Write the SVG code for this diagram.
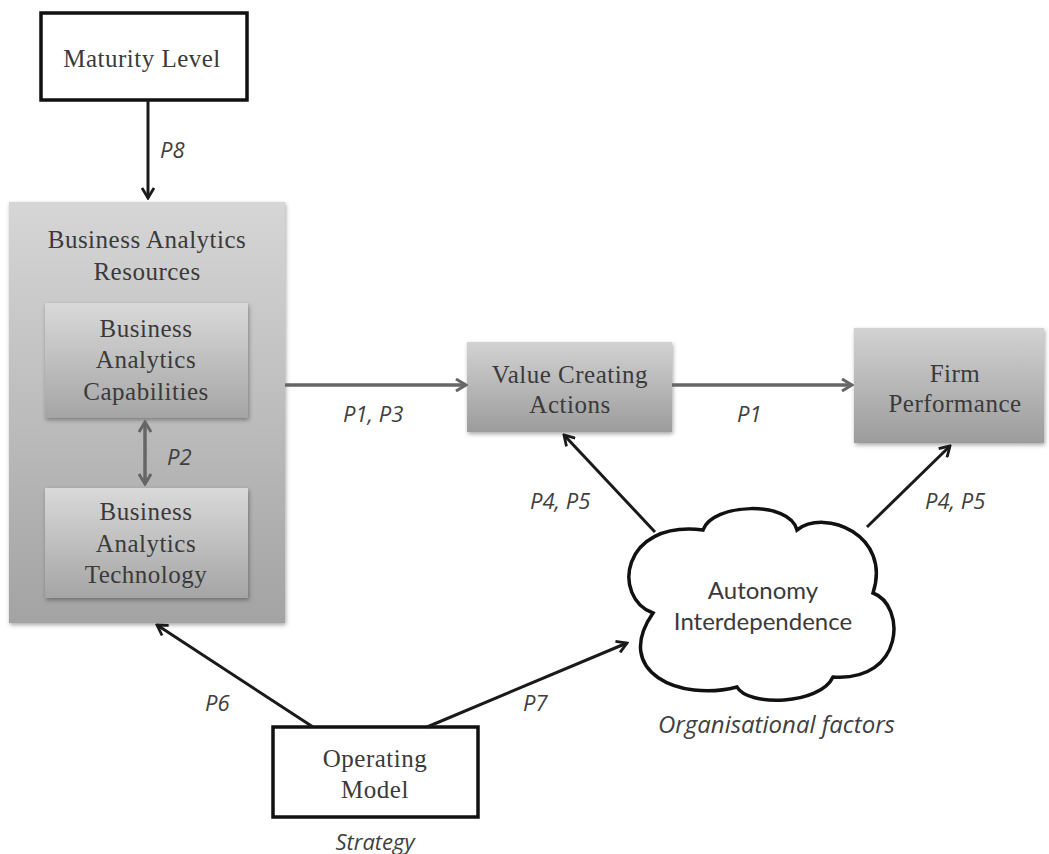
<svg xmlns="http://www.w3.org/2000/svg" width="1049" height="854" viewBox="0 0 1049 854">
<style>
.box{font-family:"Liberation Serif","DejaVu Serif",serif;font-size:25px;letter-spacing:0.5px;fill:#3a3a3a;text-anchor:middle}
.lbl{font-family:"Open Sans","Liberation Sans",sans-serif;font-style:italic;font-size:22px;fill:#3f3f3f}
.cl{font-family:Lato,"Open Sans",sans-serif;font-size:24px;fill:#3a3a3a;text-anchor:middle}
.white{fill:#fff;stroke:#111;stroke-width:3.5}
.blk{stroke:#1a1a1a;stroke-width:3;fill:none}
.gry{stroke:#666;stroke-width:3.5;fill:none}
</style>
<defs>
<linearGradient id="gOuter" x1="0" y1="0" x2="0" y2="1">
<stop offset="0" stop-color="#d6d6d6"/><stop offset="1" stop-color="#a3a3a3"/>
</linearGradient>
<linearGradient id="gInner" x1="0" y1="0" x2="0" y2="1">
<stop offset="0" stop-color="#d9d9d9"/><stop offset="1" stop-color="#a5a5a5"/>
</linearGradient>
<linearGradient id="gBox" x1="0" y1="0" x2="0" y2="1">
<stop offset="0" stop-color="#d2d2d2"/><stop offset="1" stop-color="#9c9c9c"/>
</linearGradient>
<filter id="sh" x="-10%" y="-10%" width="125%" height="125%">
<feDropShadow dx="1" dy="2" stdDeviation="2" flood-color="#000" flood-opacity="0.35"/>
</filter>
<marker id="ab" viewBox="0 0 14 14" refX="12" refY="7" markerWidth="14" markerHeight="14" markerUnits="userSpaceOnUse" orient="auto-start-reverse">
<path d="M2,1 L12,7 L2,13" fill="none" stroke="#1a1a1a" stroke-width="2.8" stroke-linejoin="miter"/>
</marker>
<marker id="ag" viewBox="0 0 14 14" refX="12" refY="7" markerWidth="14" markerHeight="14" markerUnits="userSpaceOnUse" orient="auto-start-reverse">
<path d="M2,1 L12,7 L2,13" fill="none" stroke="#666" stroke-width="3" stroke-linejoin="miter"/>
</marker>
</defs>
<rect width="1049" height="854" fill="#fff"/>

<g id="maturity">
<rect class="white" x="41" y="13" width="206" height="87"/>
<text class="box" x="142" y="67">Maturity Level</text>
</g>

<g id="bar">
<rect x="9" y="202" width="276" height="421" fill="url(#gOuter)" filter="url(#sh)"/>
<text class="box" x="147" y="248">Business Analytics</text>
<text class="box" x="147" y="280">Resources</text>
</g>

<g id="bac">
<rect x="45" y="303" width="203" height="115" fill="url(#gInner)" filter="url(#sh)"/>
<text class="box" x="146" y="337">Business</text>
<text class="box" x="146" y="368">Analytics</text>
<text class="box" x="146" y="400">Capabilities</text>
</g>

<g id="bat">
<rect x="45" y="488" width="203" height="110" fill="url(#gInner)" filter="url(#sh)"/>
<text class="box" x="146" y="520">Business</text>
<text class="box" x="146" y="552">Analytics</text>
<text class="box" x="146" y="583">Technology</text>
</g>

<g id="vca">
<rect x="467" y="342" width="205" height="90" fill="url(#gBox)" filter="url(#sh)"/>
<text class="box" x="570" y="383">Value Creating</text>
<text class="box" x="570" y="413">Actions</text>
</g>

<g id="firm">
<rect x="854" y="328" width="190" height="115" fill="url(#gBox)" filter="url(#sh)"/>
<text class="box" x="955" y="382">Firm</text>
<text class="box" x="955" y="412">Performance</text>
</g>

<g id="cloud">
<path class="white" d="M703,530 C712,503 790,500 797,530 C825,508 892,535 873,593 C906,605 905,682 833,677 C820,705 748,707 737,687 C680,702 612,672 653,613 C612,598 620,520 703,530 Z"/>
<text class="cl" x="763" y="599">Autonomy</text>
<text class="cl" x="763" y="630">Interdependence</text>
</g>

<g id="opmodel">
<rect class="white" x="273" y="727" width="205" height="90"/>
<text class="box" x="375" y="767">Operating</text>
<text class="box" x="375" y="798">Model</text>
</g>

<g id="connectors">
<line class="blk" x1="148" y1="100" x2="148" y2="198" marker-end="url(#ab)"/>
<line class="gry" x1="145" y1="422" x2="145" y2="484" marker-start="url(#ag)" marker-end="url(#ag)"/>
<line class="gry" x1="285" y1="385" x2="466" y2="385" marker-end="url(#ag)"/>
<line class="gry" x1="672" y1="385" x2="852" y2="385" marker-end="url(#ag)"/>
<line class="blk" x1="655" y1="532" x2="564" y2="435" marker-end="url(#ab)"/>
<line class="blk" x1="867" y1="527" x2="950" y2="446" marker-end="url(#ab)"/>
<line class="blk" x1="313" y1="727" x2="157" y2="625" marker-end="url(#ab)"/>
<line class="blk" x1="427" y1="727" x2="627" y2="643" marker-end="url(#ab)"/>
</g>

<g id="labels">
<text class="lbl" x="160" y="158">P8</text>
<text class="lbl" x="167" y="465">P2</text>
<text class="lbl" x="343" y="422">P1, P3</text>
<text class="lbl" x="737" y="422">P1</text>
<text class="lbl" x="530" y="509">P4, P5</text>
<text class="lbl" x="925" y="509">P4, P5</text>
<text class="lbl" x="205" y="711">P6</text>
<text class="lbl" x="523" y="711">P7</text>
<text class="lbl" x="658" y="733" style="font-size:24px">Organisational factors</text>
<text class="lbl" x="375" y="850" text-anchor="middle">Strategy</text>
</g>
</svg>
